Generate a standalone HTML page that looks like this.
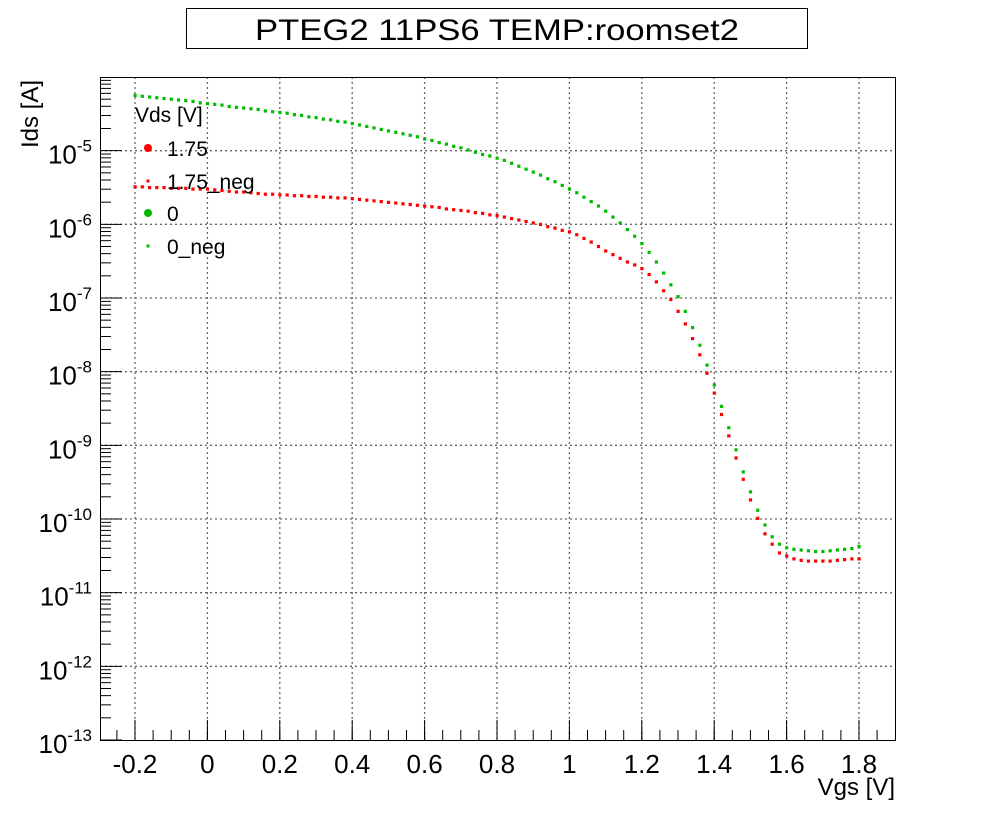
<!DOCTYPE html>
<html><head><meta charset="utf-8"><style>
html,body{margin:0;padding:0;background:#fff;}
svg{display:block;font-family:"Liberation Sans",sans-serif;}
</style></head><body>
<svg id="chart" width="996" height="824" viewBox="0 0 996 824">
<rect x="0" y="0" width="996" height="824" fill="#fff"/>
<g>
<rect x="186.5" y="8.5" width="621" height="40" fill="#fff" stroke="#000" stroke-width="1"/>
<text x="497" y="40" font-size="30" text-anchor="middle" textLength="484" lengthAdjust="spacingAndGlyphs">PTEG2 11PS6 TEMP:roomset2</text>
</g>
<g id="grid"></g>
<g id="axes"></g>
<g id="marks"></g>
<rect x="100.5" y="77.5" width="795" height="663" fill="none" stroke="#000" stroke-width="1"/>
<text x="0" y="0" font-size="24" text-anchor="end" transform="translate(38,80) rotate(-90)">Ids [A]</text>
<text x="895" y="795" font-size="24" text-anchor="end">Vgs [V]</text>
<g>
<text x="135" y="122" font-size="21">Vds [V]</text>
<g><circle cx="148" cy="148" r="4" fill="#ff0000"/><text x="167" y="156" font-size="21">1.75</text></g>
<g><rect x="146.5" y="179.5" width="3" height="3" fill="#ff0000"/><text x="167" y="189" font-size="21">1.75_neg</text></g>
<g><circle cx="148" cy="213" r="4" fill="#00bb00"/><text x="167" y="221" font-size="21">0</text></g>
<g><rect x="146.5" y="244.5" width="3" height="3" fill="#00bb00"/><text x="167" y="254" font-size="21">0_neg</text></g>
</g>
</svg>
<script>
const xStart = -0.2;
const xStep = 0.02;
const xTicks = [-0.2, 0, 0.2, 0.4, 0.6, 0.8, 1, 1.2, 1.4, 1.6, 1.8];
const xTickLabels = ["-0.2","0","0.2","0.4","0.6","0.8","1","1.2","1.4","1.6","1.8"];
const yDecades = [-13,-12,-11,-10,-9,-8,-7,-6,-5];
const logIds0neg = [
-4.25,-4.26,-4.27,-4.28,-4.29,-4.30,-4.31,-4.32,-4.33,-4.35,
-4.36,-4.37,-4.38,-4.40,-4.41,-4.42,-4.43,-4.44,-4.46,-4.47,
-4.48,-4.49,-4.51,-4.52,-4.54,-4.55,-4.57,-4.58,-4.60,-4.61,
-4.63,-4.65,-4.67,-4.69,-4.71,-4.73,-4.75,-4.77,-4.79,-4.81,
-4.84,-4.86,-4.89,-4.91,-4.94,-4.96,-4.99,-5.02,-5.05,-5.07,
-5.10,-5.13,-5.17,-5.21,-5.25,-5.29,-5.33,-5.38,-5.42,-5.47,
-5.52,-5.57,-5.63,-5.69,-5.75,-5.82,-5.90,-5.98,-6.07,-6.16,
-6.26,-6.38,-6.51,-6.66,-6.82,-6.98,-7.18,-7.40,-7.64,-7.91,
-8.18,-8.47,-8.76,-9.06,-9.36,-9.63,-9.88,-10.08,-10.24,-10.34,
-10.39,-10.41,-10.42,-10.43,-10.44,-10.44,-10.43,-10.42,-10.41,-10.40,
-10.37];
const logIds175neg = [
-5.49,-5.49,-5.50,-5.50,-5.50,-5.51,-5.51,-5.51,-5.52,-5.52,
-5.52,-5.53,-5.54,-5.55,-5.56,-5.56,-5.57,-5.58,-5.59,-5.59,
-5.60,-5.60,-5.61,-5.61,-5.62,-5.62,-5.63,-5.63,-5.64,-5.64,
-5.65,-5.66,-5.67,-5.68,-5.69,-5.70,-5.71,-5.72,-5.73,-5.74,
-5.75,-5.76,-5.77,-5.79,-5.80,-5.81,-5.82,-5.84,-5.85,-5.87,
-5.88,-5.90,-5.92,-5.94,-5.96,-5.98,-6.00,-6.03,-6.05,-6.08,
-6.10,-6.14,-6.19,-6.24,-6.30,-6.36,-6.41,-6.46,-6.51,-6.55,
-6.60,-6.68,-6.78,-6.90,-7.02,-7.18,-7.35,-7.55,-7.77,-8.02,
-8.29,-8.58,-8.87,-9.17,-9.46,-9.74,-9.99,-10.20,-10.34,-10.46,
-10.50,-10.54,-10.56,-10.57,-10.57,-10.57,-10.57,-10.56,-10.55,-10.54,
-10.54];

const NS = "http://www.w3.org/2000/svg";
const L = 100, R = 895, T = 77, B = 740;
const xMin = -0.2 - 35/362, xMax = 1.8 + 36/362;
const yMin = -13, yMax = -4;
function sx(v){ return L + (v - xMin) / (xMax - xMin) * (R - L); }
function sy(v){ return B - (v - yMin) / (yMax - yMin) * (B - T); }
function mk(tag, attrs, parent){
  const e = document.createElementNS(NS, tag);
  for (const k in attrs) e.setAttribute(k, attrs[k]);
  parent.appendChild(e);
  return e;
}
const grid = document.getElementById('grid');
const axes = document.getElementById('axes');
const marks = document.getElementById('marks');

xTicks.forEach((t, i) => {
  const x = sx(t);
  const g = mk('line', {x1:x, x2:x, y1:T, y2:B, stroke:'#666', 'stroke-width':1.3, 'stroke-dasharray':'2,3'}, grid);
  
  
  const tk = mk('line', {x1:x, x2:x, y1:B, y2:B-20, stroke:'#000', 'stroke-width':1}, axes);
  
  
  const lb = mk('text', {x:x, y:B+33, 'font-size':26, 'text-anchor':'middle'}, axes);
  lb.textContent = xTickLabels[i];
  
  
});
for (let v = -0.25; v <= 1.89; v += 0.05) {
  const x = sx(v);
  const m = mk('line', {x1:x, x2:x, y1:B, y2:B-10, stroke:'#000', 'stroke-width':1}, axes);
  
  
}
yDecades.forEach(d => {
  const y = sy(d);
  if (d > yMin) {
    const g = mk('line', {x1:L, x2:R, y1:y, y2:y, stroke:'#666', 'stroke-width':1.3, 'stroke-dasharray':'2,3'}, grid);
    
    
  }
  const tk = mk('line', {x1:L, x2:L+22, y1:y, y2:y, stroke:'#000', 'stroke-width':1}, axes);
  
  
  const lb = mk('text', {x:L-8, y:y+13, 'font-size':26, 'text-anchor':'end'}, axes);
  
  
  const base = document.createElementNS(NS, 'tspan'); base.textContent = '10'; lb.appendChild(base);
  const sup = document.createElementNS(NS, 'tspan');
  sup.setAttribute('dy', -12); sup.setAttribute('font-size', 17);
  sup.textContent = String(d);
  lb.appendChild(sup);
});
for (let d = -13; d < -4; d++) {
  for (let k = 2; k <= 9; k++) {
    const y = sy(d + Math.log10(k));
    const m = mk('line', {x1:L, x2:L+11, y1:y, y2:y, stroke:'#000', 'stroke-width':1}, axes);
    
    
  }
}
function drawSeries(vals, color, name){
  vals.forEach((v, i) => {
    const x = sx(xStart + i * xStep), y = sy(v);
    const r = mk('rect', {x:x-1.5, y:y-1.5, width:3.2, height:3.2, fill:color}, marks);
    
    
  });
}
drawSeries(logIds0neg, '#00bb00', 'point-0-neg');
drawSeries(logIds175neg, '#ff0000', 'point-1-75-neg');
</script>
</body></html>
